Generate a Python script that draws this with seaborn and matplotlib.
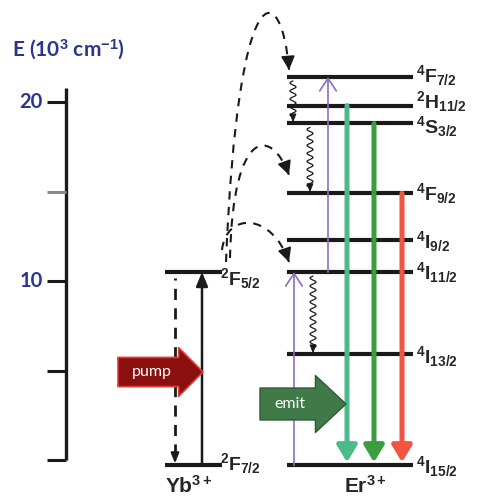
import numpy as np
import matplotlib
matplotlib.use('Agg')
import matplotlib.pyplot as plt
from matplotlib.path import Path
from matplotlib.patches import PathPatch
import seaborn as sns

sns.set_theme(style='white')
plt.rcParams['font.family'] = ['Liberation Sans', 'DejaVu Sans']
plt.rcParams['mathtext.fontset'] = 'custom'
plt.rcParams['mathtext.rm'] = 'Liberation Sans'
plt.rcParams['mathtext.it'] = 'Liberation Sans:italic'
plt.rcParams['mathtext.bf'] = 'Liberation Sans:bold'

#%% data: term energies in 10^3 cm-1
er_terms = ['4F7/2', '2H11/2', '4S3/2', '4F9/2', '4I9/2', '4I11/2', '4I13/2', '4I15/2']
er_labels = [r'$\mathbf{^4F_{7/2}}$', r'$\mathbf{^2H_{11/2}}$', r'$\mathbf{^4S_{3/2}}$',
             r'$\mathbf{^4F_{9/2}}$', r'$\mathbf{^4I_{9/2}}$', r'$\mathbf{^4I_{11/2}}$',
             r'$\mathbf{^4I_{13/2}}$', r'$\mathbf{^4I_{15/2}}$']
er_energy = [21.4, 19.8, 18.8, 14.9, 12.3, 10.5, 5.9, -0.3]

yb_terms = ['2F5/2', '2F7/2']
yb_labels = [r'$\mathbf{^2F_{5/2}}$', r'$\mathbf{^2F_{7/2}}$']
yb_energy = [10.5, -0.3]

axis_ticks = [0, 5, 10, 15, 20]
axis_ticklabels = ['', '', '10', '', '20']
axis_tickcolors = ['k', 'k', 'k', '#8a8a8a', 'k']

# transitions
absorb_from = ['4I15/2', '4I11/2']
absorb_to = ['4I11/2', '4F7/2']
emit_from = ['2H11/2', '4S3/2', '4F9/2']
emit_colors = ['#4dba8a', '#3b9c40', '#f25440']
relax_from = ['4F7/2', '4S3/2', '4I11/2']
relax_to = ['4S3/2', '4F9/2', '4I13/2']
transfer_to = ['4F7/2', '4F9/2', '4I11/2']

er = dict(zip(er_terms, er_energy))
yb = dict(zip(yb_terms, yb_energy))

# layout (x in figure pixels, y in energy)
PX = 17.9  # pixels per 10^3 cm-1
def E(py):
    return (460 - py) / PX

navy = '#2b3590'
label_drop = [5, 3, 10, 7, 8, 7, 9, 8]  # px from level line to label baseline

fig = plt.figure(figsize=(4.81, 4.96), dpi=100)
ax = fig.add_axes([0, 0, 1, 1])
ax.set_xlim(0, 481)
ax.set_ylim(E(496), E(0))
ax.axis('off')

#%% energy axis
ax.vlines(66, 0, E(88), color='k', lw=2.4)
for t, lab, c in zip(axis_ticks, axis_ticklabels, axis_tickcolors):
    ax.hlines(t, 47, 66, color=c, lw=2.2)
    ax.text(43, t, lab, ha='right', va='center', fontsize=14.5, color=navy,
            fontweight='bold', family=['Lato', 'DejaVu Sans'])
ax.text(12, E(50), r'E (10$^{\mathbf{3}}$ cm$^{\mathbf{-1}}$)', ha='left', va='center',
        fontsize=15, color=navy, fontweight='bold', family=['Lato', 'DejaVu Sans'])

#%% levels
ax.hlines(er_energy, 287, 413, color='k', lw=3)
ax.hlines(yb_energy, 165, 222, color='k', lw=3)
for e, lab, dp in zip(er_energy, er_labels, label_drop):
    ax.text(416, e - dp / PX, lab, ha='left', va='baseline', fontsize=14)
ax.text(220, yb['2F5/2'] - 13 / PX, yb_labels[0], ha='left', va='baseline', fontsize=14)
ax.text(220, yb['2F7/2'] - 5 / PX, yb_labels[1], ha='left', va='baseline', fontsize=14)
ax.text(165, E(475), r'$\mathbf{Yb^{3+}}$', ha='left', va='top', fontsize=15)
ax.text(344, E(475), r'$\mathbf{Er^{3+}}$', ha='left', va='top', fontsize=15)

#%% Yb transitions
ax.vlines(175, yb['2F7/2'] + 10 / PX, yb['2F5/2'] - 6 / PX, color='k', lw=2,
          linestyles=(0, (4, 3)))
ax.annotate('', xy=(175, yb['2F7/2'] + 2 / PX), xytext=(175, yb['2F7/2'] + 12 / PX),
            arrowprops=dict(arrowstyle='-|>,head_length=0.5,head_width=0.2', color='k',
                            lw=1.5, shrinkA=0, shrinkB=0, mutation_scale=12))
ax.annotate('', xy=(202, yb['2F5/2']), xytext=(202, yb['2F7/2']),
            arrowprops=dict(arrowstyle='-|>,head_length=0.6,head_width=0.25', color='k',
                            lw=1.8, shrinkA=0, shrinkB=0, mutation_scale=14))

#%% Er absorption (purple) and emission
for x, a, b in zip([294, 328], absorb_from, absorb_to):
    ax.annotate('', xy=(x, er[b]), xytext=(x, er[a]),
                arrowprops=dict(arrowstyle='->,head_length=0.45,head_width=0.3',
                                color='#8d6cc2', lw=1.2, shrinkA=0, shrinkB=0,
                                mutation_scale=20))
for x, a, c in zip([347, 374, 402], emit_from, emit_colors):
    ax.annotate('', xy=(x, er['4I15/2'] + 3 / PX), xytext=(x, er[a]),
                arrowprops=dict(arrowstyle='-|>,head_length=0.5,head_width=0.3',
                                color=c, lw=3.6, shrinkA=0, shrinkB=0,
                                mutation_scale=20))

#%% non-radiative relaxation (wavy)
for x, a, b in zip([293, 310, 313], relax_from, relax_to):
    y = np.linspace(er[a] - 4 / PX, er[b] + 6 / PX, 200)
    xs = x + 3 * np.sin(2 * np.pi * (er[a] - y) * PX / 8)
    ax.plot(xs, y, color='k', lw=0.9)
    ax.annotate('', xy=(x, er[b] + 1 / PX), xytext=(x, er[b] + 7 / PX),
                arrowprops=dict(arrowstyle='-|>,head_length=0.5,head_width=0.2',
                                color='k', lw=0.8, shrinkA=0, shrinkB=0,
                                mutation_scale=10))

#%% energy transfer Yb -> Er (dashed curves)
curves = [[(226, 262), (238, -35), (282, -20), (289, 70)],
          [(230, 258), (233, 125), (272, 128), (289, 175)],
          [(222, 250), (226, 212), (272, 212), (289, 262)]]
for pts in curves:
    verts = [(x, E(py)) for x, py in pts]
    path = Path(verts, [Path.MOVETO, Path.CURVE4, Path.CURVE4, Path.CURVE4])
    ax.add_patch(PathPatch(path, fc='none', ec='k', lw=1.5, ls=(0, (4, 3.5))))
    (x2, y2), (x3, y3) = pts[2], pts[3]
    d = np.hypot(x3 - x2, y3 - y2)
    xs, ys = x3 - 8 * (x3 - x2) / d, y3 - 8 * (y3 - y2) / d
    ax.annotate('', xy=(x3, E(y3)), xytext=(xs, E(ys)),
                arrowprops=dict(arrowstyle='-|>,head_length=0.6,head_width=0.3',
                                color='k', lw=1.2, shrinkA=0, shrinkB=0,
                                mutation_scale=14))

#%% pump / emit block arrows
ax.annotate('', xy=(203, E(372)), xytext=(118, E(372)),
            arrowprops=dict(arrowstyle='simple,head_length=1.75,head_width=3.5,tail_width=2.1',
                            fc='#8a1010', ec='#e03a3a', lw=1.2, shrinkA=0, shrinkB=0,
                            mutation_scale=10))
ax.text(152, E(372), 'pump', ha='center', va='center', color='white', fontsize=11.5,
        family=['Lato', 'DejaVu Sans'])
ax.annotate('', xy=(346, E(404)), xytext=(260, E(404)),
            arrowprops=dict(arrowstyle='simple,head_length=2.2,head_width=4.1,tail_width=2.3',
                            fc='#3f7a48', ec='#2d5a35', lw=1.0, shrinkA=0, shrinkB=0,
                            mutation_scale=10))
ax.text(290, E(404), 'emit', ha='center', va='center', color='white', fontsize=11.5,
        family=['Lato', 'DejaVu Sans'])

fig.savefig('out.png', dpi=100, facecolor='white')
